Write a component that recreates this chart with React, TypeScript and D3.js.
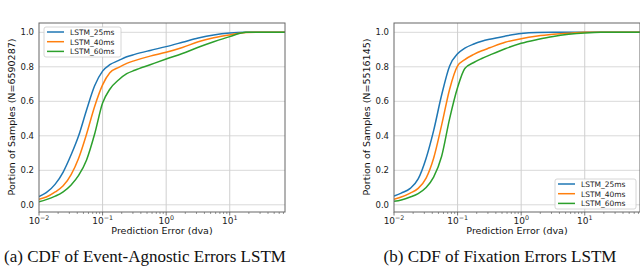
import React from "react";
import * as d3 from "d3";

const errorGrid = [0.01, 0.013, 0.018, 0.024, 0.032, 0.042, 0.056, 0.075, 0.1, 0.13, 0.18, 0.24, 0.32, 0.56, 1, 1.8, 3.2, 5.6, 10, 18, 32, 74];

const seriesNames = ["LSTM_25ms", "LSTM_40ms", "LSTM_60ms"];
const seriesColors = ["#1f77b4", "#ff7f0e", "#2ca02c"];

const agnostic25 = [0.048, 0.07, 0.12, 0.19, 0.29, 0.4, 0.55, 0.69, 0.775, 0.812, 0.837, 0.858, 0.872, 0.895, 0.917, 0.942, 0.967, 0.985, 0.996, 1, 1, 1];
const agnostic40 = [0.032, 0.045, 0.075, 0.11, 0.175, 0.27, 0.41, 0.57, 0.695, 0.765, 0.797, 0.82, 0.836, 0.862, 0.884, 0.912, 0.945, 0.968, 0.985, 0.999, 1, 1];
const agnostic60 = [0.018, 0.03, 0.05, 0.075, 0.115, 0.17, 0.26, 0.41, 0.59, 0.67, 0.725, 0.76, 0.78, 0.812, 0.845, 0.877, 0.913, 0.945, 0.975, 1, 1, 1];

const fixation25 = [0.05, 0.068, 0.095, 0.15, 0.27, 0.43, 0.635, 0.805, 0.875, 0.908, 0.932, 0.948, 0.96, 0.978, 0.993, 0.999, 1, 1, 1, 1, 1, 1];
const fixation40 = [0.032, 0.045, 0.068, 0.095, 0.155, 0.27, 0.46, 0.67, 0.805, 0.842, 0.872, 0.893, 0.91, 0.942, 0.963, 0.978, 0.988, 0.995, 1, 1, 1, 1];
const fixation60 = [0.02, 0.028, 0.045, 0.065, 0.1, 0.16, 0.28, 0.5, 0.68, 0.79, 0.825, 0.848, 0.868, 0.905, 0.936, 0.958, 0.976, 0.988, 0.996, 1, 1, 1];

const yTicks = [0, 0.2, 0.4, 0.6, 0.8, 1.0];
const xMajorExps = [-2, -1, 0, 1];

const panels = [
  { left: 39, series: [agnostic25, agnostic40, agnostic60], ylabel: "Portion of Samples (N=6590287)", caption: "(a) CDF of Event-Agnostic Errors LSTM", legend: "tl" },
  { left: 394, series: [fixation25, fixation40, fixation60], ylabel: "Portion of Samples (N=5516145)", caption: "(b) CDF of Fixation Errors LSTM", legend: "br" },
];

const TOP = 23;
const BOTTOM = 212;
const W = 246;
const SANS = "DejaVu Sans, sans-serif";

function Panel({ p, idx }: { p: any; idx: number }) {
  const x = d3.scaleLog().domain([0.01, 74]).range([p.left, p.left + W]);
  const y = d3.scaleLinear().domain([0, 1]).range([204.8, 32.3]);
  const line = d3
    .line<number>()
    .x((_, i) => x(errorGrid[i]))
    .y((d) => y(d))
    .curve(d3.curveMonotoneX);
  const minors: number[] = [];
  for (let e = -2; e <= 1; e++) for (let m = 2; m <= 9; m++) {
    const v = m * Math.pow(10, e);
    if (v < 74) minors.push(v);
  }
  const clipId = "clip" + idx;
  const leg = p.legend === "tl"
    ? { x: 44, y: 27, w: 77, h: 30, lx: 47, ly: 32 }
    : { x: 555, y: 179, w: 81, h: 30, lx: 558, ly: 184 };
  return (
    <g>
      <defs>
        <clipPath id={clipId}>
          <rect x={p.left} y={TOP} width={W} height={BOTTOM - TOP} />
        </clipPath>
      </defs>
      <rect x={p.left} y={TOP} width={W} height={BOTTOM - TOP} fill="#fff" />
      {yTicks.map((t) => (
        <line key={"gy" + t} x1={p.left} x2={p.left + W} y1={y(t)} y2={y(t)} stroke="#d9d9d9" strokeWidth={1} />
      ))}
      {xMajorExps.slice(1).map((e) => (
        <line key={"gx" + e} x1={x(Math.pow(10, e))} x2={x(Math.pow(10, e))} y1={TOP} y2={BOTTOM} stroke="#cfcfcf" strokeWidth={1} />
      ))}
      <g clipPath={`url(#${clipId})`}>
        {p.series.map((s: number[], i: number) => (
          <path key={i} d={line(s) || ""} fill="none" stroke={seriesColors[i]} strokeWidth={1.5} />
        ))}
      </g>
      <rect x={p.left} y={TOP} width={W} height={BOTTOM - TOP} fill="none" stroke="#666" strokeWidth={1} />
      {minors.map((v, i) => (
        <line key={"mt" + i} x1={x(v)} x2={x(v)} y1={BOTTOM} y2={BOTTOM + 2} stroke="#555" strokeWidth={0.6} />
      ))}
      {xMajorExps.map((e) => (
        <line key={"Mt" + e} x1={x(Math.pow(10, e))} x2={x(Math.pow(10, e))} y1={BOTTOM} y2={BOTTOM + 3.5} stroke="#555" strokeWidth={0.8} />
      ))}
      {xMajorExps.map((e) => (
        <text key={"xl" + e} x={x(Math.pow(10, e))} y={223.5} fontSize={9} fontFamily={SANS} fill="#222" textAnchor="middle">
          10<tspan dy={-3.5} fontSize={6.3}>{e < 0 ? "\u2212" + Math.abs(e) : String(e)}</tspan>
        </text>
      ))}
      {yTicks.map((t) => (
        <text key={"yl" + t} x={p.left - 5} y={y(t) + 3} fontSize={8.5} fontFamily={SANS} fill="#222" textAnchor="end">
          {t.toFixed(1)}
        </text>
      ))}
      <text x={p.left + W / 2} y={234} fontSize={9.5} fontFamily={SANS} fill="#111" textAnchor="middle">
        Prediction Error (dva)
      </text>
      <text transform={`translate(${p.left - 24},${117}) rotate(-90)`} fontSize={9.5} fontFamily={SANS} fill="#111" textAnchor="middle">
        {p.ylabel}
      </text>
      <rect x={leg.x} y={leg.y} width={leg.w} height={leg.h} rx={2} fill="#fff" fillOpacity={0.85} stroke="#ccc" strokeWidth={0.8} />
      {seriesNames.map((n, i) => (
        <g key={n}>
          <line x1={leg.lx} x2={leg.lx + 17} y1={leg.ly + i * 9.7} y2={leg.ly + i * 9.7} stroke={seriesColors[i]} strokeWidth={1.5} />
          <text x={leg.lx + 23} y={leg.ly + i * 9.7 + 2.8} fontSize={7.5} fontFamily={SANS} fill="#222">
            {n}
          </text>
        </g>
      ))}
      <text x={idx === 0 ? 145 : 500} y={262} fontSize={17} fontFamily="Liberation Serif, Times New Roman, serif" fill="#111" textAnchor="middle">
        {p.caption}
      </text>
    </g>
  );
}

export default function App() {
  return (
    <svg width={640} height={268} style={{ position: "absolute", left: 0, top: 0, background: "#fff" }}>
      <rect x={0} y={0} width={640} height={268} fill="#fff" />
      {panels.map((p, i) => (
        <Panel key={i} p={p} idx={i} />
      ))}
    </svg>
  );
}
